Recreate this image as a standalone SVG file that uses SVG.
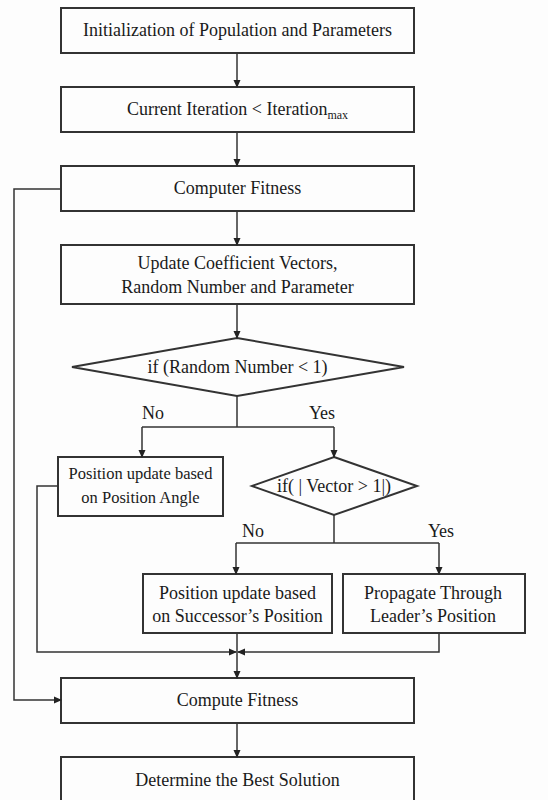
<svg xmlns="http://www.w3.org/2000/svg" width="548" height="800" viewBox="0 0 548 800">
<defs>
<marker id="ah" markerWidth="8" markerHeight="8" refX="7" refY="4" orient="auto" markerUnits="userSpaceOnUse">
<path d="M0,0.5 L8,4 L0,7.5 Z" fill="#222"/>
</marker>
<style>
.box{fill:#fdfdfd;stroke:#333;stroke-width:2}
.t{font-family:"Liberation Serif","Times New Roman",serif;font-size:18px;fill:#1a1a1a;text-anchor:middle}
.c{fill:none;stroke:#333;stroke-width:1.5}
</style>
</defs>
<rect width="548" height="800" fill="#fdfdfd"/>
<g id="n1"><rect class="box" x="61" y="8" width="353" height="45"/><text class="t" x="237.5" y="36">Initialization of Population and Parameters</text></g>
<g id="n2"><rect class="box" x="61" y="87" width="353" height="45"/><text class="t" x="237.5" y="115">Current Iteration &lt; Iteration<tspan style="font-size:12px" dy="4">max</tspan></text></g>
<g id="n3"><rect class="box" x="61" y="166" width="353" height="45"/><text class="t" x="237.5" y="194">Computer Fitness</text></g>
<g id="n4"><rect class="box" x="61" y="245" width="353" height="59"/><text class="t" x="237.5" y="269">Update Coefficient Vectors,</text><text class="t" x="237.5" y="293">Random Number and Parameter</text></g>
<g id="n5"><polygon class="box" points="237,338 404,367 237,396 72,367"/><text class="t" x="237.5" y="373">if (Random Number &lt; 1)</text></g>
<g id="n6"><rect class="box" x="58" y="457" width="165" height="59"/><text class="t" x="140.5" y="479" style="font-size:16.5px">Position update based</text><text class="t" x="140.5" y="503" style="font-size:16.5px">on Position Angle</text></g>
<g id="n7"><polygon class="box" points="334,457 417,486 334,515 252,486"/><text class="t" x="334" y="492">if( | Vector &gt; 1|)</text></g>
<g id="n8"><rect class="box" x="143" y="574" width="189" height="59"/><text class="t" x="237.5" y="599">Position update based</text><text class="t" x="237.5" y="622">on Successor’s Position</text></g>
<g id="n9"><rect class="box" x="343" y="574" width="182" height="59"/><text class="t" x="433" y="599">Propagate Through</text><text class="t" x="433" y="622">Leader’s Position</text></g>
<g id="n10"><rect class="box" x="61" y="678" width="353" height="45"/><text class="t" x="237.5" y="706">Compute Fitness</text></g>
<g id="n11"><rect class="box" x="61" y="757" width="353" height="50"/><text class="t" x="237.5" y="786">Determine the Best Solution</text></g>
<g id="connectors">
<path class="c" d="M237,53 V87" marker-end="url(#ah)"/>
<path class="c" d="M237,132 V166" marker-end="url(#ah)"/>
<path class="c" d="M237,211 V245" marker-end="url(#ah)"/>
<path class="c" d="M237,304 V338" marker-end="url(#ah)"/>
<path class="c" d="M237,396 V427"/>
<path class="c" d="M142,427 H334"/>
<path class="c" d="M142,427 V457" marker-end="url(#ah)"/>
<path class="c" d="M334,427 V457" marker-end="url(#ah)"/>
<path class="c" d="M334,515 V543"/>
<path class="c" d="M236,543 H439"/>
<path class="c" d="M236,543 V574" marker-end="url(#ah)"/>
<path class="c" d="M439,543 V574" marker-end="url(#ah)"/>
<path class="c" d="M58,486 H37 V652 H236" marker-end="url(#ah)"/>
<path class="c" d="M439,633 V652 H238" marker-end="url(#ah)"/>
<path class="c" d="M237,633 V678" marker-end="url(#ah)"/>
<path class="c" d="M61,189 H14 V700 H61" marker-end="url(#ah)"/>
<path class="c" d="M237,723 V757" marker-end="url(#ah)"/>
<text class="t" x="153" y="419">No</text>
<text class="t" x="322" y="419">Yes</text>
<text class="t" x="253" y="537">No</text>
<text class="t" x="441" y="537">Yes</text>
</g>
</svg>
